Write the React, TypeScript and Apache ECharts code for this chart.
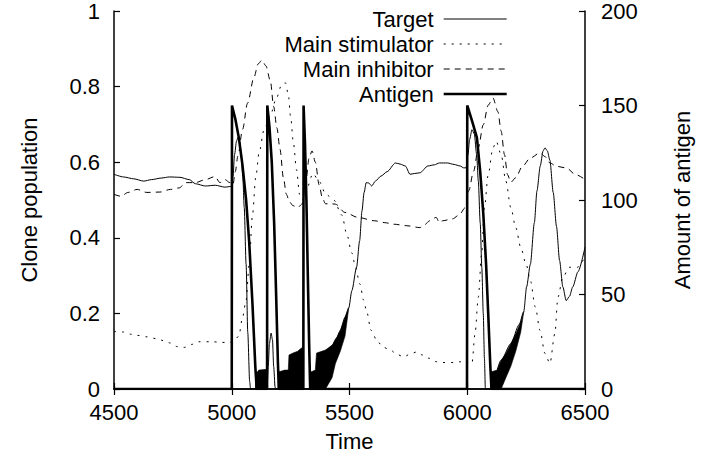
import React, { useEffect, useRef } from "react";
import * as echarts from "echarts";

// ---- Data ----
const targetTime = [4500, 4540, 4584, 4626, 4660, 4700, 4736, 4780, 4819, 4846, 4888, 4930, 4971, 4998, 5005, 5012, 5020, 5026, 5033, 5040, 5047, 5053, 5061, 5068, 5076, 5080, 5150, 5155, 5160, 5167, 5173, 5178, 5184, 5186, 5336, 5400, 5426, 5445, 5461, 5481, 5497, 5510, 5530, 5543, 5553, 5562, 5571, 5582, 5594, 5610, 5633, 5660, 5695, 5715, 5737, 5757, 5775, 5799, 5833, 5860, 5882, 5916, 5944, 5970, 5985, 5995, 6003, 6010, 6020, 6030, 6040, 6047, 6055, 6062, 6068, 6073, 6077, 6100, 6144, 6185, 6220, 6240, 6252, 6268, 6285, 6296, 6310, 6322, 6330, 6340, 6351, 6365, 6379, 6392, 6406, 6420, 6434, 6448, 6470, 6500];
const targetValue = [0.568, 0.561, 0.556, 0.55, 0.554, 0.558, 0.561, 0.56, 0.554, 0.543, 0.537, 0.539, 0.534, 0.536, 0.56, 0.62, 0.655, 0.665, 0.655, 0.625, 0.56, 0.48, 0.33, 0.15, 0.02, 0, 0, 0.06, 0.12, 0.148, 0.13, 0.06, 0.005, 0, 0, 0.103, 0.115, 0.135, 0.155, 0.19, 0.215, 0.26, 0.322, 0.392, 0.471, 0.52, 0.546, 0.545, 0.537, 0.55, 0.563, 0.575, 0.598, 0.595, 0.59, 0.568, 0.57, 0.572, 0.59, 0.593, 0.598, 0.598, 0.594, 0.59, 0.585, 0.585, 0.62, 0.66, 0.686, 0.675, 0.62, 0.55, 0.44, 0.32, 0.2, 0.08, 0, 0, 0.076, 0.12, 0.17, 0.205, 0.27, 0.33, 0.44, 0.524, 0.59, 0.63, 0.638, 0.63, 0.605, 0.52, 0.43, 0.34, 0.27, 0.234, 0.245, 0.27, 0.31, 0.375];

const stimTime = [4500, 4536, 4570, 4598, 4640, 4681, 4710, 4736, 4770, 4798, 4830, 4860, 4914, 4950, 4984, 5010, 5030, 5046, 5061, 5074, 5088, 5102, 5116, 5137, 5164, 5190, 5212, 5228, 5240, 5250, 5262, 5275, 5288, 5300, 5318, 5345, 5370, 5400, 5433, 5468, 5488, 5510, 5523, 5544, 5560, 5571, 5592, 5619, 5645, 5674, 5700, 5730, 5760, 5785, 5810, 5840, 5870, 5895, 5944, 5970, 5992, 6005, 6020, 6033, 6047, 6061, 6073, 6089, 6109, 6123, 6144, 6164, 6185, 6206, 6227, 6250, 6268, 6289, 6309, 6330, 6351, 6372, 6385, 6406, 6434, 6468, 6500];
const stimValue = [0.152, 0.151, 0.145, 0.142, 0.138, 0.133, 0.128, 0.122, 0.112, 0.11, 0.118, 0.125, 0.125, 0.124, 0.122, 0.127, 0.14, 0.19, 0.235, 0.33, 0.46, 0.56, 0.625, 0.685, 0.725, 0.77, 0.805, 0.81, 0.78, 0.72, 0.65, 0.58, 0.515, 0.5, 0.53, 0.57, 0.55, 0.515, 0.5, 0.46, 0.41, 0.36, 0.33, 0.278, 0.235, 0.21, 0.155, 0.125, 0.11, 0.103, 0.092, 0.085, 0.093, 0.098, 0.09, 0.081, 0.072, 0.07, 0.07, 0.072, 0.076, 0.07, 0.068, 0.146, 0.243, 0.357, 0.48, 0.567, 0.638, 0.655, 0.62, 0.55, 0.48, 0.427, 0.375, 0.33, 0.287, 0.217, 0.155, 0.094, 0.068, 0.146, 0.243, 0.296, 0.322, 0.322, 0.35];

const inhibTime = [4500, 4529, 4560, 4598, 4639, 4695, 4740, 4777, 4805, 4846, 4888, 4929, 4950, 4971, 4992, 5005, 5015, 5026, 5046, 5067, 5095, 5112, 5128, 5145, 5164, 5178, 5192, 5205, 5219, 5232, 5245, 5260, 5280, 5300, 5315, 5328, 5341, 5355, 5371, 5385, 5398, 5420, 5440, 5481, 5536, 5606, 5650, 5688, 5743, 5799, 5820, 5840, 5868, 5882, 5895, 5937, 5965, 5992, 6006, 6027, 6047, 6068, 6089, 6109, 6130, 6144, 6158, 6171, 6185, 6206, 6234, 6268, 6309, 6330, 6351, 6379, 6420, 6461, 6500];
const inhibValue = [0.515, 0.51, 0.52, 0.528, 0.52, 0.521, 0.528, 0.532, 0.546, 0.546, 0.554, 0.562, 0.546, 0.554, 0.546, 0.54, 0.575, 0.616, 0.687, 0.756, 0.826, 0.86, 0.87, 0.855, 0.815, 0.747, 0.69, 0.634, 0.56, 0.515, 0.495, 0.485, 0.48, 0.49, 0.55, 0.61, 0.63, 0.6, 0.54, 0.505, 0.49, 0.49, 0.489, 0.467, 0.454, 0.445, 0.44, 0.436, 0.432, 0.427, 0.435, 0.445, 0.454, 0.44, 0.445, 0.45, 0.46, 0.48, 0.524, 0.576, 0.638, 0.699, 0.751, 0.77, 0.734, 0.682, 0.62, 0.567, 0.547, 0.559, 0.589, 0.611, 0.625, 0.615, 0.598, 0.589, 0.585, 0.567, 0.554];

// Antigen, in right-axis units (0..200)
const antigenTime = [4500, 5000, 5001, 5015, 5030, 5045, 5061, 5074, 5088, 5100, 5106, 5150, 5151, 5160, 5170, 5180, 5188, 5196, 5200, 5304, 5305, 5311, 5317, 5323, 5329, 5333, 5999, 6000, 6020, 6041, 6055, 6068, 6080, 6089, 6098, 6103, 6500];
const antigenValue = [0, 0, 150, 143, 133, 119, 100, 78, 45, 12, 0, 0, 150, 139, 120, 88, 52, 14, 0, 0, 150, 130, 100, 60, 22, 0, 0, 150, 142, 133, 115, 93, 66, 40, 12, 0, 0];

// Dense oscillation bands of the target (upper / lower envelopes)
const bandATime = [5101, 5102, 5115, 5148, 5149];
const bandAUpper = [0, 0.04, 0.05, 0.052, 0];
const bandALower = [0, 0, 0, 0, 0];
const bandBTime = [5197, 5198, 5225, 5240, 5243, 5260, 5280, 5295, 5302, 5303];
const bandBUpper = [0, 0.045, 0.05, 0.05, 0.09, 0.095, 0.1, 0.108, 0.11, 0];
const bandBLower = [0, 0, 0, 0, 0, 0, 0, 0, 0, 0];
const bandCTime = [5334, 5336, 5355, 5360, 5398, 5426, 5440, 5445, 5461, 5481, 5497];
const bandCUpper = [0, 0.045, 0.05, 0.095, 0.103, 0.115, 0.13, 0.135, 0.155, 0.19, 0.215];
const bandCLower = [0, 0, 0, 0, 0, 0.03, 0.067, 0.075, 0.1, 0.14, 0.215];
const bandDTime = [6099, 6100, 6127, 6144, 6164, 6185, 6206, 6227, 6240];
const bandDUpper = [0, 0.045, 0.05, 0.076, 0.094, 0.12, 0.146, 0.177, 0.205];
const bandDLower = [0, 0, 0, 0, 0.03, 0.06, 0.1, 0.15, 0.205];

const xTicks = { min: 4500, max: 6500, step: 500 };
const yTicks = { min: 0, max: 1, step: 0.2 };
const y2Ticks = { min: 0, max: 200, step: 50 };

const pairs = (t: number[], v: number[]) => t.map((x, i) => [x, v[i]]);

export default function App() {
  const ref = useRef<HTMLDivElement>(null);
  useEffect(() => {
    const chart = echarts.init(ref.current!, null, { renderer: "svg" });
    const font = "Liberation Sans, Arial, Helvetica, sans-serif";
    const regions = [
      [bandATime, bandAUpper, bandALower],
      [bandBTime, bandBUpper, bandBLower],
      [bandCTime, bandCUpper, bandCLower],
      [bandDTime, bandDUpper, bandDLower],
    ];
    const axisLine = { show: true, lineStyle: { color: "#000", width: 1.5 } };
    const tick = { show: true, inside: true, length: 6, lineStyle: { color: "#000", width: 1.2 } };
    const label = { color: "#000", fontSize: 22, fontFamily: font, lineHeight: 16 };
    const nameStyle = { color: "#000", fontSize: 22, fontFamily: font };
    chart.setOption({
      animation: false,
      textStyle: { fontFamily: font },
      grid: { left: 114, right: 105, top: 9, bottom: 72, show: false },
      legend: {
        data: ["Target", "Main stimulator", "Main inhibitor", "Antigen"],
        orient: "vertical",
        align: "right",
        right: 193,
        top: 8,
        padding: 0,
        itemWidth: 63,
        itemHeight: 14,
        itemGap: 3,
        itemStyle: { opacity: 0 },
        lineStyle: { width: "inherit" },
        textStyle: { color: "#000", fontSize: 22, fontFamily: font, lineHeight: 20, padding: [0, 5, 0, 0] },
        selectedMode: false,
      },
      xAxis: [
        {
          type: "value", position: "bottom", min: xTicks.min, max: xTicks.max, interval: xTicks.step,
          axisLine, axisTick: tick, splitLine: { show: false },
          axisLabel: { ...label, margin: 15, formatter: (v: number) => String(v) },
          name: "Time", nameLocation: "middle", nameGap: 41, nameTextStyle: nameStyle,
        },
        {
          type: "value", position: "top", min: xTicks.min, max: xTicks.max, interval: xTicks.step,
          axisLine, axisTick: tick, splitLine: { show: false }, axisLabel: { show: false },
        },
      ],
      yAxis: [
        {
          type: "value", position: "left", min: yTicks.min, max: yTicks.max, interval: yTicks.step,
          axisLine, axisTick: tick, splitLine: { show: false },
          axisLabel: { ...label, margin: 14 },
          name: "Clone population", nameLocation: "middle", nameRotate: 90, nameGap: 74, nameTextStyle: nameStyle,
        },
        {
          type: "value", position: "right", min: y2Ticks.min, max: y2Ticks.max, interval: y2Ticks.step,
          axisLine, axisTick: tick, splitLine: { show: false },
          axisLabel: { ...label, margin: 16 },
          name: "Amount of antigen", nameLocation: "middle", nameRotate: 90, nameGap: 86, nameTextStyle: nameStyle,
        },
      ],
      series: [
        {
          type: "custom",
          name: "band",
          xAxisIndex: 0,
          yAxisIndex: 0,
          silent: true,
          z: 1,
          data: regions.map((r, i) => [r[0][0], 0, i]),
          encode: { x: 0, y: 1 },
          renderItem: (params: any, api: any) => {
            const idx = api.value(2);
            const [ts, up, lo] = regions[idx];
            const pts: number[][] = [];
            for (let i = 0; i < ts.length; i++) pts.push(api.coord([ts[i], up[i]]));
            for (let i = ts.length - 1; i >= 0; i--) pts.push(api.coord([ts[i], lo[i]]));
            return { type: "polygon", shape: { points: pts }, style: { fill: "#000", stroke: "#000", lineWidth: 0.6 } };
          },
        },
        {
          type: "line", name: "Target", data: pairs(targetTime, targetValue), showSymbol: false, symbol: "none",
          smooth: 0.25, smoothMonotone: "x", z: 3,
          lineStyle: { color: "#000", width: 1, type: "solid" }, itemStyle: { color: "#000" },
        },
        {
          type: "line", name: "Main stimulator", data: pairs(stimTime, stimValue), showSymbol: false, symbol: "none",
          smooth: 0.3, smoothMonotone: "x", z: 3,
          lineStyle: { color: "#000", width: 1, type: [2, 6] }, itemStyle: { color: "#000" },
        },
        {
          type: "line", name: "Main inhibitor", data: pairs(inhibTime, inhibValue), showSymbol: false, symbol: "none",
          smooth: 0.3, smoothMonotone: "x", z: 3,
          lineStyle: { color: "#000", width: 1, type: [6, 5] }, itemStyle: { color: "#000" },
        },
        {
          type: "line", name: "Antigen", yAxisIndex: 1, data: pairs(antigenTime, antigenValue), showSymbol: false, symbol: "none",
          z: 4, lineStyle: { color: "#000", width: 2.6, type: "solid" }, itemStyle: { color: "#000" },
        },
      ],
    });
    return () => chart.dispose();
  }, []);
  return (
    <div
      ref={ref}
      style={{ position: "fixed", left: 0, top: 0, width: 701, height: 461, background: "#fff" }}
    />
  );
}
